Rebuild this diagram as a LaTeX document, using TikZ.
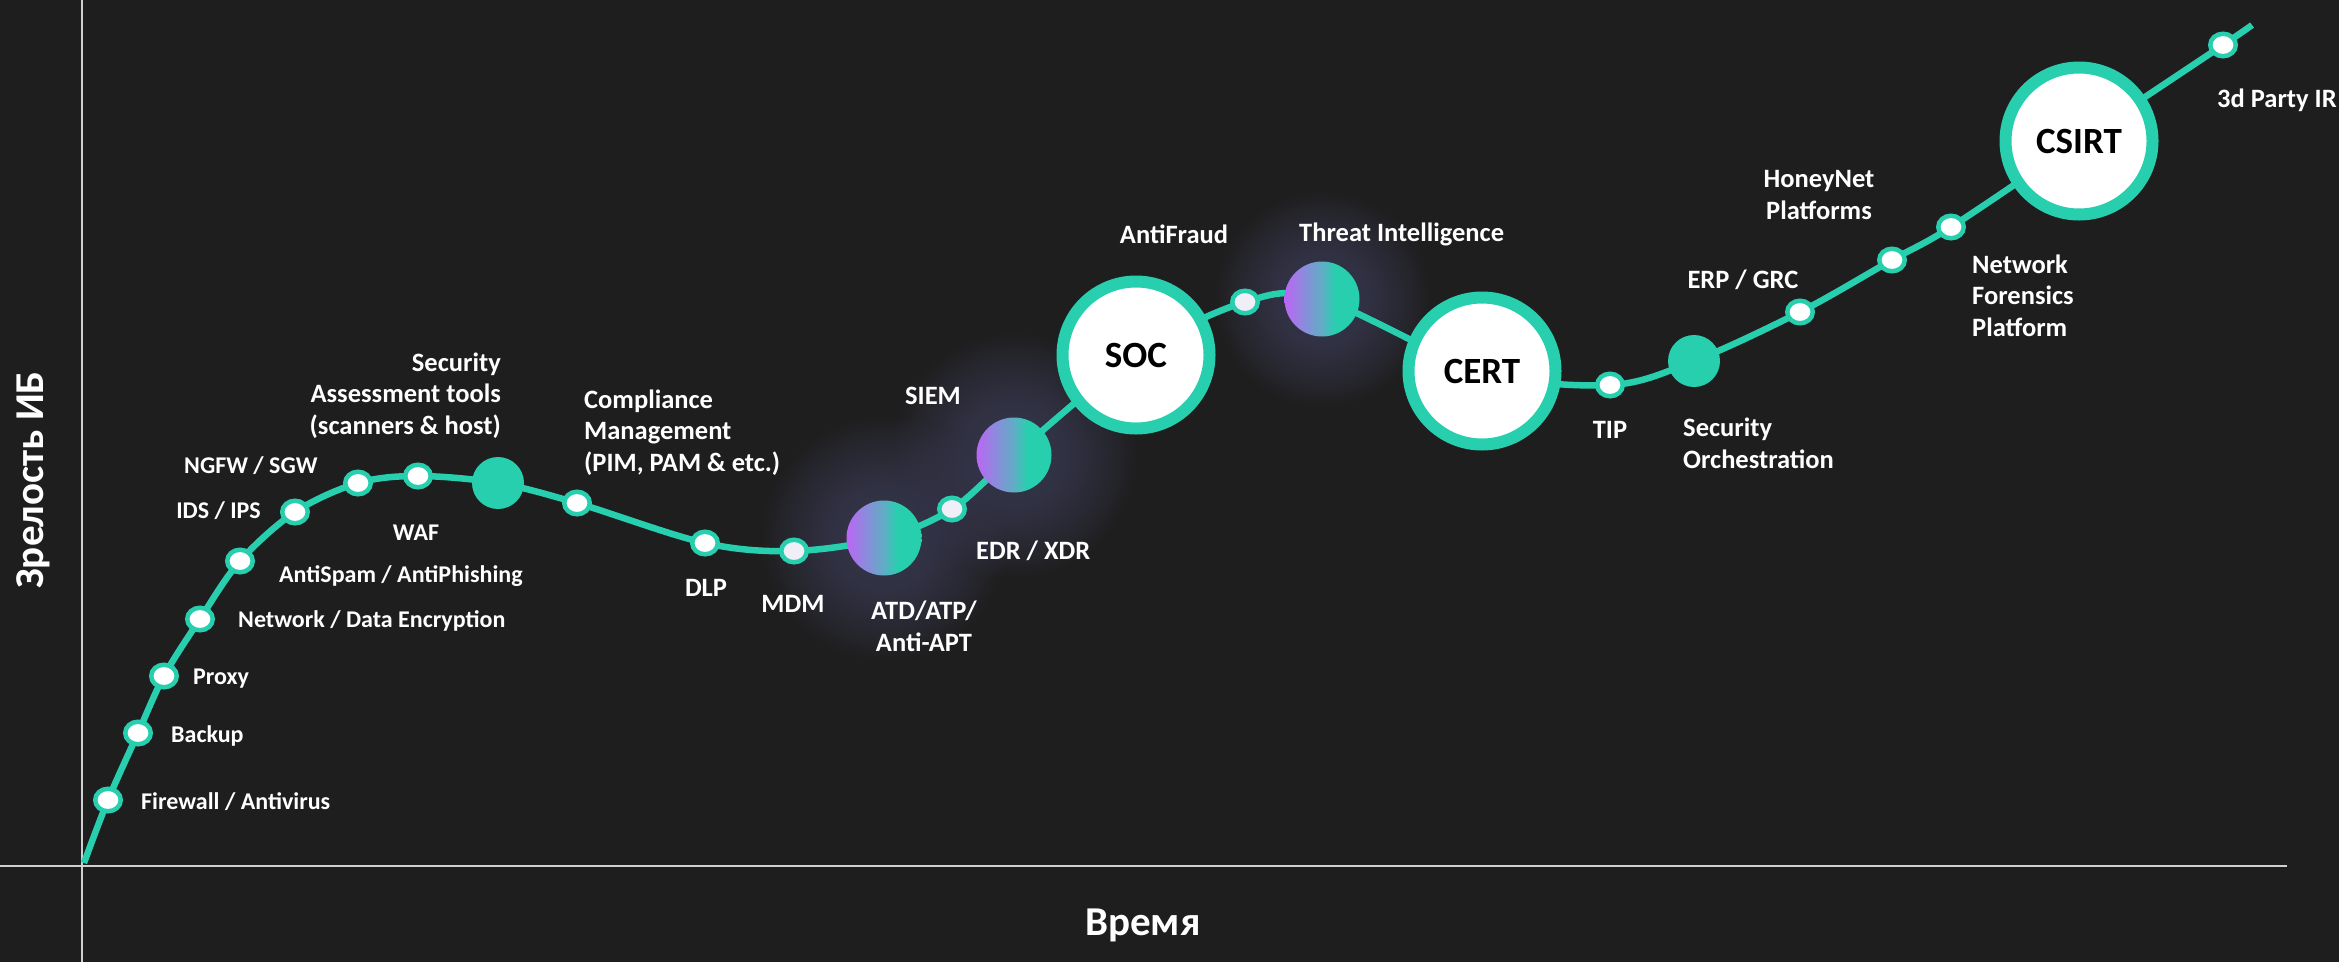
\documentclass[tikz,border=0pt]{standalone}
\usepackage{fontspec}
\setmainfont{Carlito}
\usetikzlibrary{shapes.geometric,fadings}

\definecolor{bg}{HTML}{1E1E1E}
\definecolor{mint}{HTML}{27CFAE}
\definecolor{axisgray}{HTML}{D0D0D0}
\definecolor{orbviolet}{HTML}{BB66F5}
\definecolor{orbblue}{HTML}{5FAEC4}
\definecolor{haze}{HTML}{35354B}
\definecolor{tint}{HTML}{F0EFF8}
\definecolor{fadeA}{gray}{1}
\definecolor{fadeB}{gray}{0.85}
\definecolor{fadeC}{gray}{0.45}
\definecolor{fadeD}{gray}{0}

% violet-to-mint fill of the highlighted stages
\pgfdeclarehorizontalshading{orbshade}{100bp}{color(0bp)=(orbviolet); color(25bp)=(orbviolet); color(50bp)=(orbblue); color(59bp)=(mint); color(100bp)=(mint)}
% haze that stays dense near the centre and dies out at the rim
\pgfdeclareradialshading{hazeshape}{\pgfpointorigin}{color(0bp)=(fadeA); color(10bp)=(fadeB); color(18bp)=(fadeC); color(25bp)=(fadeD); color(50bp)=(fadeD)}
\pgfdeclarefading{hazefade}{\pgfuseshading{hazeshape}}

\begin{document}
\begin{tikzpicture}[x=1pt,y=-1pt,
  dot/.style={ellipse, draw=mint, fill=white, line width=4.5pt, minimum width=25.5pt, minimum height=22.5pt, inner sep=0pt},
  tintdot/.style={dot, fill=tint},
  hub/.style={circle, fill=mint, minimum size=52pt, inner sep=0pt},
  orb/.style={circle, shade, shading=orbshade, minimum size=75pt, inner sep=0pt},
  core/.style={circle, draw=mint, fill=white, line width=12pt, minimum size=147pt, inner sep=0pt, text=black, font=\fontsize{37}{40}\selectfont\bfseries},
  lbl/.style={text=white, inner sep=0pt, font=\fontsize{24}{31.5}\selectfont\bfseries},
  lblb/.style={text=white, inner sep=0pt, font=\fontsize{26.5}{31.5}\selectfont\bfseries},
  axislbl/.style={text=white, inner sep=0pt, font=\fontsize{41}{46}\selectfont\bfseries},
  axisline/.style={axisgray, line width=2.4pt},
  glow/.style={haze, path fading=hazefade},
  track/.style={mint, line width=6.5pt}
]
\fill[bg] (0,0) rectangle (2339,962);
\useasboundingbox (0,0) rectangle (2339,962);

% stage positions along the maturity curve
\coordinate (c0) at (84,863);
\coordinate (c1) at (108,800);
\coordinate (c2) at (138,733);
\coordinate (c3) at (164,676);
\coordinate (c4) at (200,619);
\coordinate (c5) at (240,561);
\coordinate (c6) at (295,512);
\coordinate (c7) at (358,483);
\coordinate (c8) at (418,476);
\coordinate (c9) at (498,483);
\coordinate (c10) at (577,503);
\coordinate (c11) at (705,543);
\coordinate (c12) at (794,551);
\coordinate (c13) at (884,538);
\coordinate (c14) at (952,509);
\coordinate (c15) at (1014,455);
\coordinate (c16) at (1136,355);
\coordinate (c17) at (1245,302);
\coordinate (c18) at (1322,299);
\coordinate (c19) at (1482,371);
\coordinate (c20) at (1610,385);
\coordinate (c21) at (1694,361);
\coordinate (c22) at (1800,312);
\coordinate (c23) at (1892,260);
\coordinate (c24) at (1951,227);
\coordinate (c25) at (2079,141);
\coordinate (c26) at (2223,45);
\coordinate (c27) at (2252,25);

% soft haze behind the highlighted stages
\fill[glow] (c13) circle (125);
\fill[glow] (c15) circle (125);
\fill[glow] (c18) circle (110);

% axes
\coordinate (yTop) at (82,0);
\coordinate (yBot) at (82,962);
\coordinate (xLeft) at (0,866);
\coordinate (xRight) at (2287,866);
\draw[axisline] (yTop) -- (yBot);
\draw[axisline, line width=2.7pt] (xLeft) -- (xRight);

% the curve
\draw[track] plot[smooth, tension=0.55] coordinates {(c0) (c1) (c2) (c3) (c4) (c5) (c6) (c7) (c8) (c9) (c10) (c11) (c12) (c13) (c14) (c15) (c16) (c17) (c18) (c19) (c20) (c21) (c22) (c23) (c24) (c25) (c26) (c27)};

% stage markers
\node[dot] (fw) at (c1) {};
\node[dot] (bk) at (c2) {};
\node[dot] (px) at (c3) {};
\node[dot] (enc) at (c4) {};
\node[dot] (spam) at (c5) {};
\node[dot] (ids) at (c6) {};
\node[dot] (ngfw) at (c7) {};
\node[dot] (waf) at (c8) {};
\node[hub] (sat) at (c9) {};
\node[dot] (cm) at (c10) {};
\node[dot] (dlp) at (c11) {};
\node[tintdot] (mdm) at (c12) {};
\node[orb] (atd) at (c13) {};
\node[tintdot] (edr) at (c14) {};
\node[orb] (siem) at (c15) {};
\node[core] (soc) at (c16) {SOC};
\node[tintdot] (af) at (c17) {};
\node[orb] (ti) at (c18) {};
\node[core] (cert) at (c19) {CERT};
\node[dot] (tip) at (c20) {};
\node[hub] (so) at (c21) {};
\node[dot] (erp) at (c22) {};
\node[dot] (hn) at (c23) {};
\node[dot] (nf) at (c24) {};
\node[core] (csirt) at (c25) {CSIRT};
\node[dot] (ir) at (c26) {};

% labels (multi-line ones are placed by the baseline of their last line)
\node[lbl, anchor=base west] (tfw) at (141,809) {Firewall / Antivirus};
\node[lbl, anchor=base west] (tbk) at (171,742) {Backup};
\node[lbl, anchor=base west] (tpx) at (193,684) {Proxy};
\node[lbl, anchor=base west] (tenc) at (238,627) {Network / Data Encryption};
\node[lbl, anchor=base west] (tspam) at (279,582) {AntiSpam / AntiPhishing};
\node[lbl, anchor=base] (twaf) at (416,540) {WAF};
\node[lbl, anchor=base east] (tids) at (261,518) {IDS / IPS};
\node[lbl, anchor=base west] (tngfw) at (184,473) {NGFW / SGW};
\node[lblb, anchor=base east, align=right] (tsat) at (501,434) {Security\\Assessment tools\\(scanners \& host)};
\node[lblb, anchor=base west, align=left] (tcm) at (584,471) {Compliance\\Management\\(PIM, PAM \& etc.)};
\node[lblb, anchor=base] (tdlp) at (706,596) {DLP};
\node[lblb, anchor=base] (tmdm) at (793,612) {MDM};
\node[lblb, anchor=base, align=center] (tatd) at (924,651) {ATD/ATP/\\Anti-APT};
\node[lblb, anchor=base] (tsiem) at (933,404) {SIEM};
\node[lblb, anchor=base west] (tedr) at (976,559) {EDR / XDR};
\node[lblb, anchor=base] (taf) at (1174,243) {AntiFraud};
\node[lblb, anchor=base west] (tti) at (1299,241) {Threat Intelligence};
\node[lblb, anchor=base] (ttip) at (1610,438) {TIP};
\node[lblb, anchor=base west, align=left] (tso) at (1683,468) {Security\\Orchestration};
\node[lblb, anchor=base] (terp) at (1743,288) {ERP / GRC};
\node[lblb, anchor=base, align=center] (thn) at (1819,219) {HoneyNet\\Platforms};
\node[lblb, anchor=base west, align=left] (tnf) at (1972,336) {Network\\Forensics\\Platform};
\node[lblb, anchor=base west] (tir) at (2217,107) {3d Party IR};

% axis titles
\node[axislbl] (xt) at (1143,925) {Время};
\node[axislbl, rotate=90] (yt) at (33,480) {Зрелость ИБ};
\end{tikzpicture}
\end{document}
